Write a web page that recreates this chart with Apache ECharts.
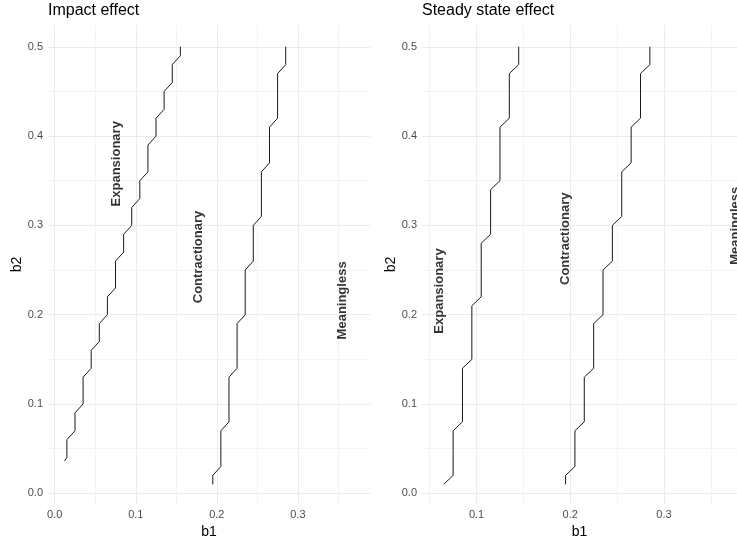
<!DOCTYPE html>
<html><head><meta charset="utf-8">
<script src="https://cdn.jsdelivr.net/npm/echarts@6/dist/echarts.min.js"></script>
<style>html,body{margin:0;padding:0;background:#fff}#c{width:737px;height:544px}</style>
</head><body><div id="c"></div>
<script>
// ---- data ----
const panelTitles = ['Impact effect', 'Steady state effect'];
const xName = 'b1';
const yName = 'b2';
const yTicks = [0, 0.1, 0.2, 0.3, 0.4, 0.5];
const yMinorTicks = [0.05, 0.15, 0.25, 0.35, 0.45];
const xTicksImpact = [0, 0.1, 0.2, 0.3];
const xMinorImpact = [0.05, 0.15, 0.25, 0.35];
const xTicksSteady = [0.1, 0.2, 0.3];
const xMinorSteady = [0.05, 0.15, 0.25, 0.35];

// Impact effect: expansionary boundary
const impExpX = [0.012, 0.015, 0.015, 0.025, 0.025, 0.035, 0.035, 0.045, 0.045, 0.055, 0.055, 0.065, 0.065, 0.075, 0.075, 0.085, 0.085, 0.095, 0.095, 0.105, 0.105, 0.115, 0.115, 0.125, 0.125, 0.135, 0.135, 0.145, 0.145, 0.155, 0.155];
const impExpY = [0.036, 0.04, 0.06, 0.07, 0.09, 0.10, 0.13, 0.14, 0.16, 0.17, 0.19, 0.20, 0.22, 0.23, 0.26, 0.27, 0.29, 0.30, 0.32, 0.33, 0.35, 0.36, 0.39, 0.40, 0.42, 0.43, 0.45, 0.46, 0.48, 0.49, 0.50];
// Impact effect: contractionary boundary
const impConX = [0.195, 0.195, 0.205, 0.205, 0.215, 0.215, 0.225, 0.225, 0.235, 0.235, 0.245, 0.245, 0.255, 0.255, 0.265, 0.265, 0.275, 0.275, 0.285, 0.285];
const impConY = [0.01, 0.02, 0.03, 0.07, 0.08, 0.13, 0.14, 0.19, 0.20, 0.25, 0.26, 0.30, 0.31, 0.36, 0.37, 0.41, 0.42, 0.47, 0.48, 0.50];
// Steady state effect: expansionary boundary
const ssExpX = [0.065, 0.075, 0.075, 0.085, 0.085, 0.095, 0.095, 0.105, 0.105, 0.115, 0.115, 0.125, 0.125, 0.135, 0.135, 0.145, 0.145];
const ssExpY = [0.01, 0.02, 0.07, 0.08, 0.14, 0.15, 0.21, 0.22, 0.28, 0.29, 0.34, 0.35, 0.41, 0.42, 0.47, 0.48, 0.50];
// Steady state effect: contractionary boundary
const ssConX = [0.195, 0.195, 0.205, 0.205, 0.215, 0.215, 0.225, 0.225, 0.235, 0.235, 0.245, 0.245, 0.255, 0.255, 0.265, 0.265, 0.275, 0.275, 0.285, 0.285];
const ssConY = [0.01, 0.02, 0.03, 0.07, 0.08, 0.13, 0.14, 0.19, 0.20, 0.25, 0.26, 0.30, 0.31, 0.36, 0.37, 0.41, 0.42, 0.47, 0.48, 0.50];

// region labels
const regionNames = ['Expansionary', 'Contractionary', 'Meaningless'];
const impLabelX = [0.0765, 0.177, 0.355];
const impLabelY = [0.369, 0.2646, 0.216];
const ssLabelX = [0.0607, 0.1944, 0.3765];
const ssLabelY = [0.2265, 0.285, 0.2996];

// ---- chart ----
const FONT = "'Liberation Sans', Arial, sans-serif";
const pairs = (xs, ys) => xs.map((x, i) => [x, ys[i]]);
const labelData = (xs, ys) => xs.map((x, i) => ({ value: [x, ys[i]], name: regionNames[i] }));

const grids = [
  { left: 48, top: 25, width: 322, height: 479 },
  { left: 422, top: 25, width: 315, height: 479 }
];
const xRanges = [[-0.0083, 0.389], [0.0418, 0.378]];
const yRange = [-0.012, 0.5244];

function majorX(gi, ticks) {
  return {
    type: 'value', gridIndex: gi, min: xRanges[gi][0], max: xRanges[gi][1],
    name: xName, nameLocation: 'middle', nameGap: 20,
    nameTextStyle: { color: '#000', fontSize: 14, fontFamily: FONT },
    axisLine: { show: false },
    axisTick: { show: false, customValues: ticks },
    axisLabel: { customValues: ticks, margin: 5, color: '#4D4D4D', fontSize: 11, fontFamily: FONT, formatter: v => v.toFixed(1) },
    splitLine: { show: true, lineStyle: { color: '#EBEBEB', width: 1 } }
  };
}
function minorX(gi, ticks) {
  return {
    type: 'value', gridIndex: gi, min: xRanges[gi][0], max: xRanges[gi][1],
    axisLine: { show: false },
    axisTick: { show: false, customValues: ticks },
    axisLabel: { show: false },
    splitLine: { show: true, lineStyle: { color: '#F3F3F3', width: 1 } }
  };
}
function majorY(gi) {
  return {
    type: 'value', gridIndex: gi, min: yRange[0], max: yRange[1],
    name: yName, nameLocation: 'middle', nameGap: 24, nameRotate: 90,
    nameTextStyle: { color: '#000', fontSize: 14, fontFamily: FONT },
    axisLine: { show: false },
    axisTick: { show: false, customValues: yTicks },
    axisLabel: { customValues: yTicks, margin: 5, color: '#4D4D4D', fontSize: 11, fontFamily: FONT, formatter: v => v.toFixed(1) },
    splitLine: { show: true, lineStyle: { color: '#EBEBEB', width: 1 } }
  };
}
function minorY(gi) {
  return {
    type: 'value', gridIndex: gi, min: yRange[0], max: yRange[1],
    axisLine: { show: false },
    axisTick: { show: false, customValues: yMinorTicks },
    axisLabel: { show: false },
    splitLine: { show: true, lineStyle: { color: '#F3F3F3', width: 1 } }
  };
}
function boundary(xi, yi, data) {
  return {
    type: 'line', xAxisIndex: xi, yAxisIndex: yi, data: data,
    showSymbol: false, symbol: 'none', silent: true, animation: false,
    lineStyle: { color: '#1A1A1A', width: 1 }, z: 5
  };
}
function textSeries(xi, yi, data) {
  return {
    type: 'scatter', xAxisIndex: xi, yAxisIndex: yi, data: data,
    symbolSize: 1, itemStyle: { color: 'transparent' }, silent: true, animation: false, clip: false,
    label: {
      show: true, position: 'inside', rotate: 90, formatter: p => p.name,
      color: '#000', fontSize: 13, fontWeight: 'bold', fontFamily: FONT
    }, z: 6
  };
}

const chart = echarts.init(document.getElementById('c'), null, { renderer: 'canvas' });
chart.setOption({
  animation: false,
  backgroundColor: '#fff',
  title: [
    { text: panelTitles[0], left: 48, top: 3, padding: 0, textStyle: { color: '#000', fontSize: 16, fontWeight: 'normal', fontFamily: FONT } },
    { text: panelTitles[1], left: 422, top: 3, padding: 0, textStyle: { color: '#000', fontSize: 16, fontWeight: 'normal', fontFamily: FONT } }
  ],
  grid: grids,
  xAxis: [majorX(0, xTicksImpact), minorX(0, xMinorImpact), majorX(1, xTicksSteady), minorX(1, xMinorSteady)],
  yAxis: [majorY(0), minorY(0), majorY(1), minorY(1)],
  series: [
    boundary(0, 0, pairs(impExpX, impExpY)),
    boundary(0, 0, pairs(impConX, impConY)),
    textSeries(0, 0, labelData(impLabelX, impLabelY)),
    boundary(2, 2, pairs(ssExpX, ssExpY)),
    boundary(2, 2, pairs(ssConX, ssConY)),
    textSeries(2, 2, labelData(ssLabelX, ssLabelY))
  ]
});
</script>
</body></html>
